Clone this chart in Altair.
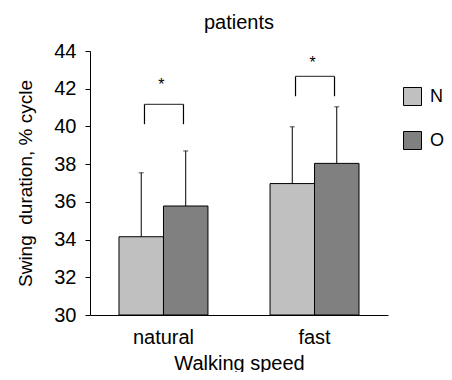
import altair as alt
import pandas as pd

speeds = ["natural", "natural", "fast", "fast"]
groups = ["N", "O", "N", "O"]
means = [34.15, 35.78, 36.97, 38.04]
uppers = [37.54, 38.70, 39.98, 41.04]
y_ticks = [30, 32, 34, 36, 38, 40, 42, 44]

bracket_speed = ["natural", "fast"]
bracket_low = [40.12, 41.60]
bracket_high = [41.17, 42.65]
star_y = [42.2, 43.35]

df = pd.DataFrame({"speed": speeds, "group": groups, "mean": means, "upper": uppers})
bk = pd.DataFrame({"speed": bracket_speed, "low": bracket_low, "high": bracket_high,
                   "star": star_y, "label": ["*", "*"]})

FONT = "Liberation Sans"
order = ["natural", "fast"]

xaxis = alt.Axis(title="Walking speed", labelAngle=0, ticks=False,
                 labelPadding=12, titlePadding=6, domainColor="black",
                 labelFontSize=20, titleFontSize=20, titleFontWeight="normal",
                 labelColor="black", titleColor="black", labelFont=FONT, titleFont=FONT)
xscale = alt.Scale(paddingInner=0.411, paddingOuter=0.192)
xoff = alt.XOffset("group:N", sort=["N", "O"], scale=alt.Scale(paddingInner=0, paddingOuter=0))
yscale = alt.Scale(domain=[30, 44], nice=False, zero=False)
yaxis = alt.Axis(title="Swing\u00a0 duration, % cycle", values=y_ticks,
                 grid=False, tickSize=5, tickColor="black", domainColor="black",
                 labelOverlap=False, labelFontSize=20, titleFontSize=19,
                 titleFontWeight="normal",
                 labelColor="black", titleColor="black", labelFont=FONT, titleFont=FONT,
                 labelPadding=9, titlePadding=18)


def X():
    return alt.X("speed:N", sort=order, scale=xscale, axis=xaxis)


def Y(field):
    return alt.Y(field, scale=yscale, axis=yaxis)


bars = alt.Chart(df).mark_bar(stroke="black", strokeWidth=1).encode(
    x=X(),
    xOffset=xoff,
    y=Y("mean:Q"),
    y2=alt.datum(30),
    color=alt.Color("group:N", sort=["N", "O"],
                    scale=alt.Scale(domain=["N", "O"], range=["#c0c0c0", "#808080"]),
                    legend=alt.Legend(title=None, orient="none", legendX=313, legendY=36,
                                      symbolType="square", symbolSize=324, symbolStrokeColor="black",
                                      symbolStrokeWidth=1, labelFontSize=18, labelFont=FONT,
                                      labelColor="black", labelOffset=8, rowPadding=21)),
)

err = alt.Chart(df).mark_rule(color="black", strokeWidth=1).encode(
    x=X(), xOffset=xoff, y=Y("mean:Q"), y2="upper:Q")

caps = alt.Chart(df).mark_tick(color="black", orient="horizontal", size=5, thickness=1).encode(
    x=X(), xOffset=xoff, y=Y("upper:Q"))

legL = alt.Chart(bk).mark_rule(color="black", strokeWidth=1.2, xOffset=-19).encode(
    x=X(), y=Y("low:Q"), y2="high:Q")
legR = alt.Chart(bk).mark_rule(color="black", strokeWidth=1.2, xOffset=20).encode(
    x=X(), y=Y("low:Q"), y2="high:Q")
top = alt.Chart(bk).mark_tick(color="black", orient="horizontal", size=39, thickness=1.2,
                              xOffset=0.5).encode(
    x=X(), y=Y("high:Q"))
stars = alt.Chart(bk).mark_text(fontSize=16, font=FONT, color="black", xOffset=-2,
                                baseline="middle").encode(
    x=X(), y=Y("star:Q"), text="label:N")

chart = alt.layer(bars, err, caps, legL, legR, top, stars).properties(
    width=298, height=264,
    title=alt.Title("patients", fontSize=20, font=FONT, fontWeight="normal", color="black",
                    offset=8),
    autosize=alt.AutoSizeParams(type="none"),
    padding={"left": 82, "top": 43, "right": 56, "bottom": 57},
).configure_view(stroke=None).configure_axisX(domainWidth=1.2).configure_axisY(domainWidth=1)

chart.save("out.html", embed_options={"renderer": "svg", "actions": False})
